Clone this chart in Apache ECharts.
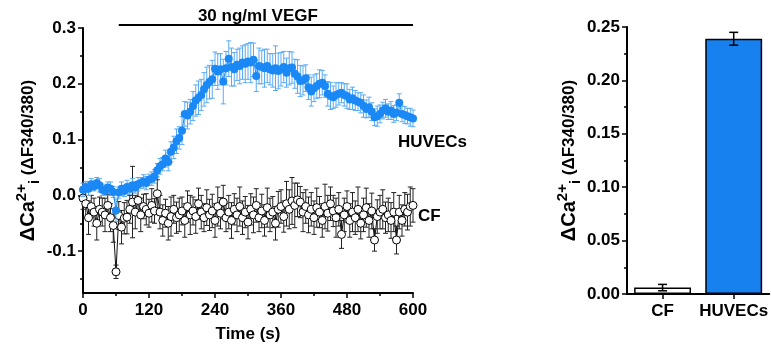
<!DOCTYPE html>
<html>
<head>
<meta charset="utf-8">
<script src="https://cdn.jsdelivr.net/npm/echarts@6/dist/echarts.min.js"></script>
<style>
html,body{margin:0;padding:0;background:#fff;}
#c{width:771px;height:354px;}
</style>
</head>
<body>
<div id="c"></div>
<script>
// ---- Data (time step 5 s, 0..600 s) ----
const huvecMean = [
  0.010,0.015,0.012,0.020,0.016,0.022,0.018,0.010,0.008,0.014,0.012,0.006,
  -0.027,0.005,0.012,0.008,0.015,0.012,0.018,0.014,0.020,0.022,0.025,0.022,
  0.028,0.030,0.034,0.045,0.052,0.056,0.066,0.060,0.078,0.086,0.097,0.103,
  0.116,0.146,0.143,0.150,0.160,0.170,0.175,0.180,0.190,0.198,0.203,0.208,
  0.227,0.222,0.226,0.204,0.228,0.245,0.230,0.226,0.234,0.232,0.238,0.236,
  0.240,0.238,0.243,0.214,0.232,0.230,0.228,0.232,0.226,0.224,0.228,0.223,
  0.226,0.230,0.220,0.228,0.229,0.218,0.213,0.205,0.206,0.210,0.194,0.186,
  0.192,0.196,0.200,0.202,0.196,0.182,0.178,0.176,0.180,0.182,0.184,0.180,
  0.178,0.172,0.174,0.170,0.168,0.166,0.160,0.155,0.158,0.150,0.140,0.142,
  0.146,0.152,0.156,0.150,0.152,0.146,0.148,0.166,0.146,0.144,0.142,0.140,
  0.138
];
const huvecErr = [
  0.012,0.010,0.012,0.010,0.008,0.010,0.012,0.010,0.008,0.010,0.012,0.010,
  0.020,
  0.010,0.012,0.010,0.012,0.010,0.012,0.010,0.012,0.010,0.012,0.012,0.010,0.012,0.012,
  0.012,0.014,0.012,0.015,0.016,0.018,0.020,0.022,0.020,0.025,0.022,0.024,0.022,0.026,0.028,0.030,0.028,0.030,0.032,0.030,0.034,
  0.030,0.032,0.028,0.040,0.030,0.032,0.034,0.030,0.028,0.032,0.030,0.034,0.032,0.036,0.030,0.028,0.032,0.030,0.034,0.030,0.028,0.030,0.040,0.032,0.030,0.028,0.026,0.030,0.028,0.026,0.030,0.028,0.026,
  0.024,0.022,0.026,0.024,0.022,0.025,0.022,0.020,0.022,0.024,0.020,0.022,0.020,0.018,0.020,0.022,0.018,0.020,0.018,0.016,0.018,0.020,0.016,0.018,0.016,0.015,0.018,0.016,0.015,0.016,0.014,0.016,0.015,0.014,0.016,0.014,0.015,0.014,0.016,0.015
];
const cfMean = [
  -0.005,-0.015,-0.040,-0.020,-0.030,-0.050,-0.025,-0.030,-0.035,-0.018,-0.040,-0.054,
  -0.137,-0.036,-0.057,-0.041,-0.039,-0.025,-0.012,-0.030,-0.009,-0.035,-0.020,-0.025,
  -0.032,-0.018,-0.028,0.003,-0.030,-0.045,-0.032,-0.050,-0.038,-0.025,-0.040,-0.035,
  -0.028,-0.045,-0.020,-0.035,-0.028,-0.038,-0.015,-0.030,-0.040,-0.022,-0.035,-0.028,
  -0.045,-0.020,-0.032,-0.012,-0.040,-0.030,-0.045,-0.025,-0.035,-0.020,-0.040,-0.030,
  -0.048,-0.025,-0.035,-0.018,-0.040,-0.028,-0.045,-0.022,-0.035,-0.030,-0.050,-0.025,
  -0.020,-0.038,-0.015,-0.025,-0.010,-0.018,-0.008,-0.012,-0.030,-0.020,-0.035,-0.025,
  -0.040,-0.022,-0.030,-0.045,-0.020,-0.032,-0.015,-0.028,-0.040,-0.025,-0.070,-0.035,
  -0.020,-0.045,-0.030,-0.040,-0.025,-0.050,-0.035,-0.022,-0.045,-0.028,-0.080,-0.038,
  -0.030,-0.025,-0.040,-0.035,-0.045,-0.030,-0.080,-0.030,-0.045,-0.025,-0.030,-0.020,
  -0.018
];
const cfErr = [
  0.020,0.025,0.030,0.020,0.025,0.030,0.022,0.025,0.030,0.020,0.025,0.030,
  0.012,0.025,0.030,0.028,0.030,0.025,0.064,0.030,0.025,0.030,0.022,0.028,
  0.025,0.030,0.022,0.025,0.030,0.028,0.025,0.030,0.035,0.025,0.028,0.030,
  0.025,0.030,0.028,0.035,0.025,0.030,0.028,0.030,0.025,0.032,0.028,0.030,
  0.030,0.035,0.028,0.030,0.025,0.030,0.032,0.028,0.030,0.035,0.030,0.028,
  0.030,0.028,0.032,0.030,0.025,0.030,0.028,0.035,0.030,0.028,0.030,0.032,
  0.030,0.028,0.040,0.035,0.042,0.040,0.030,0.028,0.035,0.030,0.032,0.030,
  0.030,0.035,0.028,0.030,0.040,0.032,0.030,0.028,0.035,0.030,0.025,0.030,
  0.028,0.030,0.035,0.030,0.040,0.028,0.030,0.035,0.030,0.032,0.020,0.030,
  0.030,0.035,0.028,0.030,0.032,0.035,0.025,0.030,0.028,0.030,0.032,0.035,
  0.030
];
const timeStep = 5;
const leftYLabels = [-0.1, 0.0, 0.1, 0.2, 0.3];
const leftYMinor = [-0.15, -0.05, 0.05, 0.15, 0.25];
const vegfStart = 65, vegfEnd = 600;

const barCats = ['CF', 'HUVECs'];
const barMean = [0.006, 0.239];
const barErr = [0.003, 0.006];

// ---- Styles ----
const BLUE = '#1a88f5';
const BLUE_ERR = '#5aabf5';
const BAR_BLUE = '#1781f0';
const FONT = 'Liberation Sans, Arial, sans-serif';

const times = huvecMean.map((_, i) => i * timeStep);
const huvecPts = times.map((t, i) => [t, huvecMean[i]]);
const cfPts = times.map((t, i) => [t, cfMean[i]]);
const huvecEB = times.map((t, i) => [t, huvecMean[i] - huvecErr[i], huvecMean[i] + huvecErr[i]]);
const cfEB = times.map((t, i) => [t, cfMean[i] - cfErr[i], cfMean[i] + cfErr[i]]);
const barEB = barCats.map((c, i) => [i, barMean[i] - barErr[i], barMean[i] + barErr[i]]);

function errRender(color, capW, lw) {
  return function (params, api) {
    const x = api.value(0);
    const lo = api.coord([x, api.value(1)]);
    const hi = api.coord([x, api.value(2)]);
    const st = { stroke: color, lineWidth: lw };
    return {
      type: 'group',
      children: [
        { type: 'line', shape: { x1: lo[0], y1: lo[1], x2: hi[0], y2: hi[1] }, style: st },
        { type: 'line', shape: { x1: hi[0] - capW / 2, y1: hi[1], x2: hi[0] + capW / 2, y2: hi[1] }, style: st },
        { type: 'line', shape: { x1: lo[0] - capW / 2, y1: lo[1], x2: lo[0] + capW / 2, y2: lo[1] }, style: st }
      ]
    };
  };
}

const axisText = { color: '#000', fontSize: 17, fontWeight: 'bold', fontFamily: FONT };
const nameRich = {
  a: { fontSize: 20, fontWeight: 'bold', fontFamily: FONT, color: '#000', lineHeight: 28, verticalAlign: 'middle' },
  sup: { fontSize: 15, fontWeight: 'bold', fontFamily: FONT, color: '#000', lineHeight: 15, verticalAlign: 'top' },
  sub: { fontSize: 15, fontWeight: 'bold', fontFamily: FONT, color: '#000', lineHeight: 15, verticalAlign: 'bottom' },
  b: { fontSize: 17, fontWeight: 'bold', fontFamily: FONT, color: '#000', lineHeight: 28, verticalAlign: 'middle' }
};
const yName = '{a|ΔCa}{sup|2+}{sub|i}{b| (ΔF340/380)}';

const chart = echarts.init(document.getElementById('c'), null, { renderer: 'canvas' });

const option = {
  animation: false,
  backgroundColor: '#fff',
  grid: [
    { left: 83, right: 358, top: 28, bottom: 61 },
    { left: 627, right: 1, top: 27, bottom: 60 }
  ],
  xAxis: [
    {
      gridIndex: 0, type: 'value', min: 0, max: 600, interval: 120,
      name: 'Time (s)', nameLocation: 'middle', nameGap: 33,
      nameTextStyle: { color: '#000', fontSize: 17, fontWeight: 'bold', fontFamily: FONT },
      axisLine: { show: true, onZero: false, lineStyle: { color: '#000', width: 2 } },
      axisTick: { show: true, length: 5, lineStyle: { color: '#000', width: 1.5 } },
      minorTick: { show: true, splitNumber: 2, length: 3, lineStyle: { color: '#000', width: 1.5 } },
      axisLabel: Object.assign({ margin: 9 }, axisText),
      splitLine: { show: false }
    },
    {
      gridIndex: 1, type: 'category', data: barCats,
      axisLine: { show: true, onZero: false, lineStyle: { color: '#000', width: 2 } },
      axisTick: { show: true, alignWithLabel: true, length: 5, lineStyle: { color: '#000', width: 1.5 } },
      axisLabel: Object.assign({ margin: 9, interval: 0, hideOverlap: false }, axisText),
      splitLine: { show: false }
    }
  ],
  yAxis: [
    {
      gridIndex: 0, type: 'value', min: -0.175, max: 0.3, position: 'left',
      name: yName, nameLocation: 'middle', nameGap: 40,
      nameTextStyle: { rich: nameRich },
      axisLine: { show: true, onZero: false, lineStyle: { color: '#000', width: 2 } },
      axisTick: { show: true, length: 5, customValues: leftYLabels, lineStyle: { color: '#000', width: 1.5 } },
      axisLabel: Object.assign({ margin: 7, customValues: leftYLabels, formatter: v => v.toFixed(1) }, axisText),
      splitLine: { show: false }
    },
    {
      gridIndex: 0, type: 'value', min: -0.175, max: 0.3, position: 'left', offset: 0,
      axisLine: { show: false, onZero: false },
      axisTick: { show: true, length: 3, customValues: leftYMinor, lineStyle: { color: '#000', width: 1.5 } },
      axisLabel: { show: false },
      splitLine: { show: false }
    },
    {
      gridIndex: 1, type: 'value', min: 0, max: 0.25, interval: 0.05, position: 'left',
      name: yName, nameLocation: 'middle', nameGap: 43,
      nameTextStyle: { rich: nameRich },
      axisLine: { show: true, onZero: false, lineStyle: { color: '#000', width: 2 } },
      axisTick: { show: true, length: 5, lineStyle: { color: '#000', width: 1.5 } },
      minorTick: { show: true, splitNumber: 2, length: 3, lineStyle: { color: '#000', width: 1.5 } },
      axisLabel: Object.assign({ margin: 7, formatter: v => v.toFixed(2) }, axisText),
      splitLine: { show: false }
    }
  ],
  series: [
    {
      type: 'custom', xAxisIndex: 0, yAxisIndex: 0, data: cfEB, z: 2,
      renderItem: errRender('#222', 5, 1)
    },
    {
      type: 'line', xAxisIndex: 0, yAxisIndex: 0, data: cfPts, z: 3,
      symbol: 'circle', symbolSize: 8, showSymbol: true,
      lineStyle: { color: '#111', width: 1 },
      itemStyle: { color: '#fff', borderColor: '#000', borderWidth: 1 }
    },
    {
      type: 'custom', xAxisIndex: 0, yAxisIndex: 0, data: huvecEB, z: 4,
      renderItem: errRender(BLUE_ERR, 5, 1)
    },
    {
      type: 'line', xAxisIndex: 0, yAxisIndex: 0, data: huvecPts, z: 5,
      symbol: 'circle', symbolSize: 8, showSymbol: true,
      lineStyle: { color: BLUE, width: 1 },
      itemStyle: { color: BLUE, borderColor: BLUE, borderWidth: 0 }
    },
    {
      type: 'bar', xAxisIndex: 1, yAxisIndex: 2, data: barMean, barWidth: '80%', z: 2,
      itemStyle: {
        color: (p) => p.dataIndex === 0 ? '#fff' : BAR_BLUE,
        borderColor: '#000', borderWidth: 1.5
      }
    },
    {
      type: 'custom', xAxisIndex: 1, yAxisIndex: 2, data: barEB, z: 5,
      renderItem: errRender('#000', 9, 1.5)
    }
  ]
};
chart.setOption(option);

// Annotations positioned via the axes
const x0 = chart.convertToPixel({ xAxisIndex: 0 }, vegfStart);
const x1 = chart.convertToPixel({ xAxisIndex: 0 }, vegfEnd);
const hEnd = chart.convertToPixel({ xAxisIndex: 0, yAxisIndex: 0 }, [600, huvecMean[huvecMean.length - 1]]);
const cEnd = chart.convertToPixel({ xAxisIndex: 0, yAxisIndex: 0 }, [600, cfMean[cfMean.length - 1]]);
const labelStyle = { fill: '#000', fontSize: 17, fontWeight: 'bold', fontFamily: FONT };
chart.setOption({
  graphic: [
    { type: 'line', shape: { x1: x0, y1: 25, x2: x1, y2: 25 }, style: { stroke: '#000', lineWidth: 2 } },
    { type: 'text', x: (x0 + x1) / 2 - 8, y: 16, style: Object.assign({ text: '30 ng/ml VEGF', align: 'center', verticalAlign: 'middle' }, labelStyle) },
    { type: 'text', x: hEnd[0] - 15, y: hEnd[1] + 24, style: Object.assign({ text: 'HUVECs', align: 'left', verticalAlign: 'middle' }, labelStyle) },
    { type: 'text', x: cEnd[0] + 5, y: cEnd[1] + 11, style: Object.assign({ text: 'CF', align: 'left', verticalAlign: 'middle' }, labelStyle) }
  ]
});
</script>
</body>
</html>
